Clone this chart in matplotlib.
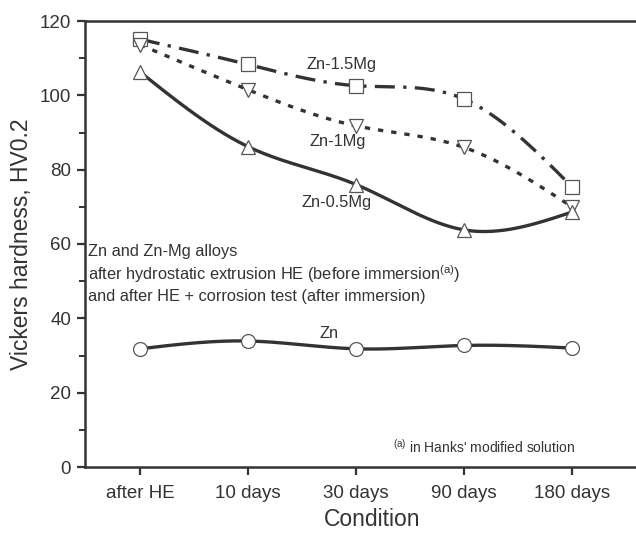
import numpy as np
import matplotlib
matplotlib.use("Agg")
import matplotlib.pyplot as plt

plt.rcParams['font.family'] = ['Liberation Sans', 'DejaVu Sans']
plt.rcParams['mathtext.fontset'] = 'custom'
plt.rcParams['mathtext.rm'] = 'Liberation Sans'
plt.rcParams['mathtext.it'] = 'Liberation Sans:italic'

categories = ["after HE", "10 days", "30 days", "90 days", "180 days"]
zn = [31.8, 33.9, 31.8, 32.7, 32.0]
zn05 = [106.3, 86.2, 76.0, 63.8, 68.6]
zn1 = [113.6, 101.5, 91.8, 86.0, 70.0]
zn15 = [115.1, 108.3, 102.6, 99.0, 75.4]

TXT = '#333333'


def natural_spline(x, y, n=200):
    x = np.asarray(x, float)
    y = np.asarray(y, float)
    k = len(x)
    h = np.diff(x)
    A = np.zeros((k, k))
    b = np.zeros(k)
    A[0, 0] = A[-1, -1] = 1
    for i in range(1, k - 1):
        A[i, i - 1] = h[i - 1]
        A[i, i] = 2 * (h[i - 1] + h[i])
        A[i, i + 1] = h[i]
        b[i] = 6 * ((y[i + 1] - y[i]) / h[i] - (y[i] - y[i - 1]) / h[i - 1])
    M = np.linalg.solve(A, b)
    xs = np.linspace(x[0], x[-1], n)
    ys = np.empty_like(xs)
    for j, t in enumerate(xs):
        i = min(np.searchsorted(x, t, side='right') - 1, k - 2)
        a = x[i + 1] - t
        c = t - x[i]
        ys[j] = (M[i] * a ** 3 + M[i + 1] * c ** 3) / (6 * h[i]) + \
                (y[i] / h[i] - M[i] * h[i] / 6) * a + \
                (y[i + 1] / h[i] - M[i + 1] * h[i] / 6) * c
    return xs, ys


W, H = 636, 534
fig = plt.figure(figsize=(W / 100, H / 100), dpi=100)
x0, x1 = 85, 660
yt, yb = 21, 467
ax = fig.add_axes([x0 / W, 1 - yb / H, (x1 - x0) / W, (yb - yt) / H])

xpos = np.arange(len(categories))
series = [
    (zn15, 's', (0, (6, 2.5, 1, 2.5))),
    (zn1, 'v', (0, (1.6, 2.4))),
    (zn05, '^', '-'),
    (zn, 'o', '-'),
]
for vals, mk, ls in series:
    xs, ys = natural_spline(xpos, vals)
    ax.plot(xs, ys, color=TXT, lw=2.4, ls=ls, zorder=2)
    ax.plot(xpos, vals, ls='none', marker=mk, ms=10, mfc='white',
            mec='#555555', mew=0.9, zorder=3)

ax.set_xlim(-55 / 108, (x1 - 140) / 108)
ax.set_ylim(0, 120)
ax.set_xticks(xpos)
ax.set_xticklabels(categories)
ax.set_yticks(np.arange(0, 121, 20))
ax.set_yticks(np.arange(10, 120, 20), minor=True)
ax.tick_params(axis='both', which='major', direction='out', length=6,
               width=1.6, color=TXT, labelcolor=TXT, labelsize=13.5, pad=4)
ax.tick_params(axis='y', which='minor', direction='out', length=4,
               width=1.4, color=TXT)
ax.tick_params(axis='x', which='major', pad=7)
for s in ['left', 'bottom', 'top']:
    ax.spines[s].set_color(TXT)
    ax.spines[s].set_linewidth(1.8)
ax.spines['right'].set_visible(False)

ax.set_xlabel("Condition", fontsize=16.5, color=TXT, labelpad=4)
ax.set_ylabel("Vickers hardness, HV0.2", fontsize=16.5, color=TXT, labelpad=5)

fs = 11.8
ax.text(1.87, 108.2, "Zn-1.5Mg", fontsize=fs, color=TXT, ha='center', va='center')
ax.text(1.83, 87.5, "Zn-1Mg", fontsize=fs, color=TXT, ha='center', va='center')
ax.text(1.82, 71.1, "Zn-0.5Mg", fontsize=fs, color=TXT, ha='center', va='center')
ax.text(1.755, 36.0, "Zn", fontsize=fs, color=TXT, ha='center', va='center')

ax.text(-0.48, 57.9, "Zn and Zn-Mg alloys", fontsize=fs, color=TXT, ha='left', va='center')
ax.text(-0.48, 51.8, r"after hydrostatic extrusion HE (before immersion$^{\mathrm{(a)}}$)",
        fontsize=fs, color=TXT, ha='left', va='center')
ax.text(-0.48, 46.0, "and after HE + corrosion test (after immersion)",
        fontsize=fs, color=TXT, ha='left', va='center')
ax.text(4.03, 5.5, r"$^{\mathrm{(a)}}$ in Hanks' modified solution", fontsize=10,
        color=TXT, ha='right', va='center')

fig.savefig("out.png", dpi=100)
